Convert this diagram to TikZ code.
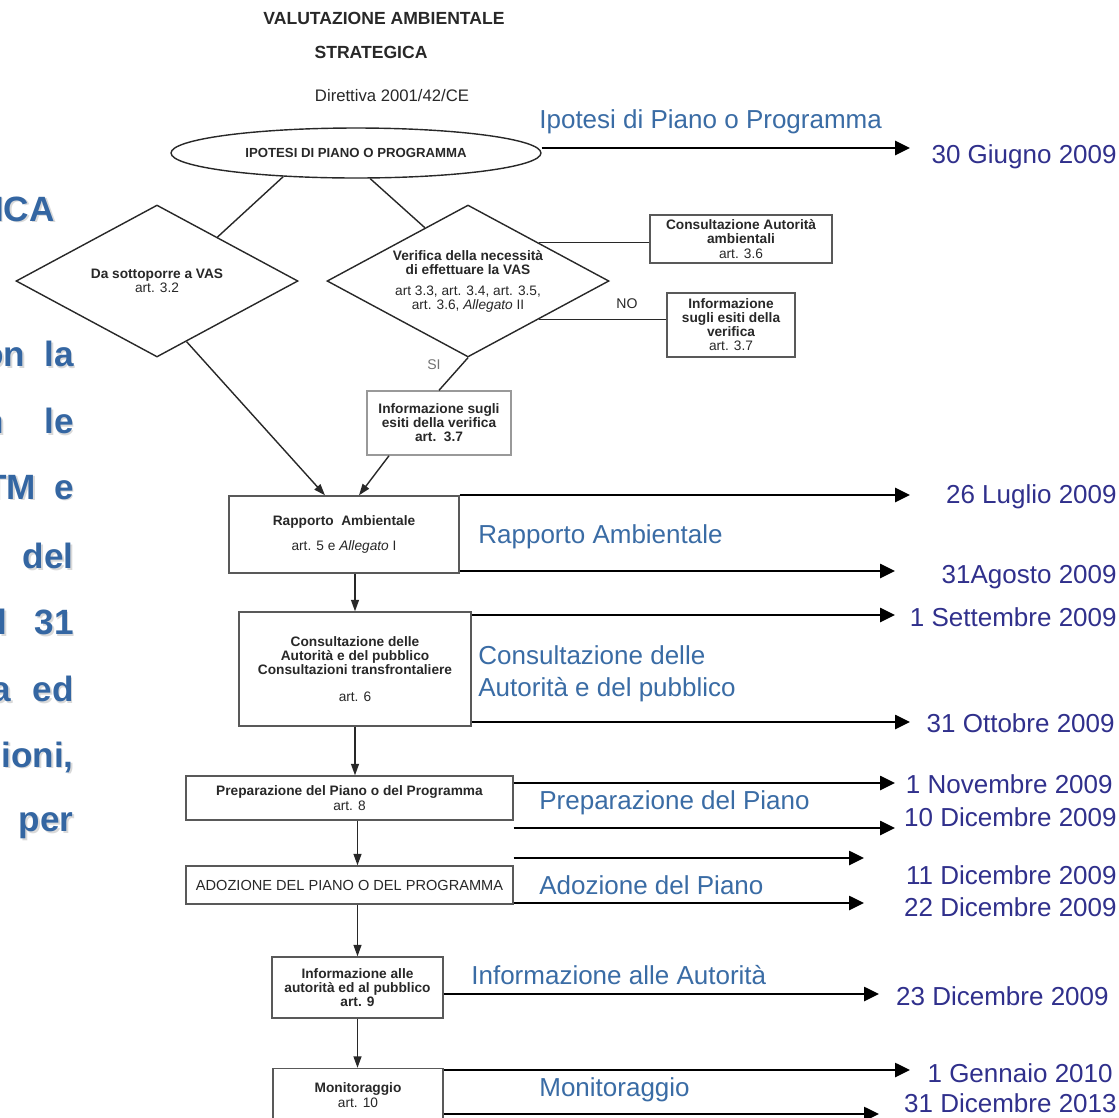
\documentclass[tikz,border=0pt]{standalone}
\usepackage{fontspec}
\setmainfont{Liberation Sans}
\usetikzlibrary{arrows.meta,shapes.geometric}

\definecolor{stageblue}{RGB}{58,108,165}
\definecolor{dateblue}{RGB}{48,48,140}
\definecolor{sideblue}{RGB}{52,102,162}
\definecolor{inkgray}{RGB}{40,40,40}

\newcommand{\flowfont}{\fontsize{7.8}{8}\selectfont\bfseries}
\newcommand{\shadowed}[1]{\makebox[0pt][l]{\hspace{1pt}\raisebox{-1pt}{\textcolor{black!15}{#1}}}#1}

\begin{document}
\begin{tikzpicture}[x=0.02cm, y=-0.02cm,
  oval/.style={ellipse, draw=inkgray, line width=0.8pt, minimum width=7.4cm, minimum height=1cm, inner sep=0pt, font=\fontsize{7.5}{9}\selectfont\bfseries, text=inkgray},
  decision/.style={diamond, draw=inkgray, line width=0.8pt, aspect=1.86, minimum width=5.64cm, minimum height=3.04cm, inner sep=0pt, align=center, font=\flowfont, text=inkgray},
  box/.style={draw=black!65, line width=0.8pt, fill=white, align=center, inner sep=0pt, font=\flowfont, text=inkgray},
  flow/.style={draw=inkgray, line width=0.8pt},
  flowarrow/.style={flow, -{Triangle[length=6.5pt, width=4.5pt]}},
  pointer/.style={draw, line width=1.3pt, -{Triangle[length=8.5pt, width=8pt]}},
  stage/.style={anchor=west, inner sep=0pt, text=stageblue, font=\fontsize{14.8}{18}\selectfont},
  date/.style={anchor=east, inner sep=0pt, text=dateblue, font=\fontsize{14.8}{18}\selectfont},
  sidetext/.style={anchor=east, inner sep=0pt, text=sideblue, font=\fontsize{20}{24}\selectfont\bfseries},
  note/.style={inner sep=0pt, text=inkgray}
]

\path[fill=white] (0,0) rectangle (1119,1117);
\useasboundingbox (0,0) rectangle (1119,1117);

% Title
\node[note, font=\fontsize{10}{12}\selectfont\bfseries] (title1) at (384,18) {VALUTAZIONE AMBIENTALE};
\node[note, font=\fontsize{10}{12}\selectfont\bfseries] (title2) at (371,52) {STRATEGICA};
\node[note, font=\fontsize{9.5}{11}\selectfont] (directive) at (392,96) {Direttiva 2001/42/CE};

% Left column text
\node[sidetext] (side0) at (55,210) {\shadowed{ICA}};
\node[sidetext] (side1) at (74,355) {\shadowed{on}\hspace{0.38cm}\shadowed{la}};
\node[sidetext] (side2) at (74,422) {\shadowed{n}\hspace{0.8cm}\shadowed{le}};
\node[sidetext] (side3) at (74,488) {\shadowed{TM}\hspace{0.36cm}\shadowed{e}};
\node[sidetext] (side4) at (74,557) {\shadowed{del}};
\node[sidetext] (side5) at (74,623) {\shadowed{l}\hspace{0.54cm}\shadowed{31}};
\node[sidetext] (side6) at (74,690) {\shadowed{a}\hspace{0.43cm}\shadowed{ed}};
\node[sidetext] (side7) at (74,758) {\shadowed{ioni,}};
\node[sidetext] (side8) at (74,827) {\shadowed{per}};

% Flowchart nodes
\node[oval] (ipotesi) at (356,153) {IPOTESI DI PIANO O PROGRAMMA};
\node[decision] (ldia) at (157,281) {Da sottoporre a VAS\\\mdseries art. 3.2};
\node[decision] (rdia) at (468,281) {Verifica della necessità\\di effettuare la VAS\\[4pt]\mdseries art 3.3, art. 3.4, art. 3.5,\\\mdseries art. 3.6, \textit{Allegato} II};
\node[box, minimum width=3.64cm, minimum height=0.96cm] (caut) at (741,239) {Consultazione Autorità\\ambientali\\\mdseries art. 3.6};
\node[box, minimum width=2.56cm, minimum height=1.28cm] (infono) at (731,325) {Informazione\\sugli esiti della\\verifica\\\mdseries art. 3.7};
\node[box, draw=black!40, minimum width=2.88cm, minimum height=1.28cm] (infosi) at (439,423) {Informazione sugli\\esiti della verifica\\art.~~3.7};
\node[box, minimum width=4.6cm, minimum height=1.54cm] (rapp) at (344,534.5) {Rapporto~~Ambientale\\[6.5pt]\mdseries art. 5 e \textit{Allegato} I};
\node[box, minimum width=4.64cm, minimum height=2.28cm] (consult) at (355,669) {Consultazione delle\\Autorità e del pubblico\\Consultazioni transfrontaliere\\[7pt]\mdseries art. 6};
\node[box, minimum width=6.54cm, minimum height=0.88cm] (prep) at (349.5,798) {Preparazione del Piano o del Programma\\[1pt]\mdseries art. 8};
\node[box, minimum width=6.54cm, minimum height=0.76cm, font=\fontsize{8.3}{9}\selectfont] (adoz) at (349.5,885) {ADOZIONE DEL PIANO O DEL PROGRAMMA};
\node[box, minimum width=3.42cm, minimum height=1.22cm] (infoaut) at (357.5,987.5) {Informazione alle\\autorità ed al pubblico\\art. 9};
\node[box, minimum width=3.4cm, minimum height=1.06cm] (monit) at (358,1095) {Monitoraggio\\[1pt]\mdseries art. 10};

\node[note, font=\fontsize{8}{9}\selectfont] (nolabel) at (627,304) {NO};
\node[note, font=\fontsize{8}{9}\selectfont, text=black!55] (silabel) at (434,365) {SI};

% Arrows between nodes
\draw[flow] (ipotesi.198) -- (ldia.36);
\draw[flow] (ipotesi.299) -- (rdia.129);
\draw[flow] (rdia.north east) -- (caut.west |- rdia.north east);
\draw[flow] (rdia.south east) -- (infono.west |- rdia.south east);
\draw[flow] (rdia.south) -- (infosi.north);
\draw[flowarrow] (ldia.296) -- ([xshift=-0.38cm]rapp.north);
\draw[flowarrow] ([xshift=-1cm]infosi.south) -- ([xshift=0.3cm]rapp.north);
\draw[flowarrow] (rapp.south -| consult.north) -- (consult.north);
\draw[flowarrow] (consult.south) -- (consult.south |- prep.north);
\draw[flowarrow] (prep.south -| infoaut.north) -- (adoz.north -| infoaut.north);
\draw[flowarrow] (adoz.south -| infoaut.north) -- (infoaut.north);
\draw[flowarrow] (infoaut.south) -- (infoaut.south |- monit.north);

% Timeline
\coordinate (tipIpotesi) at (910,148);
\coordinate (tipRappA) at (910,495);
\coordinate (tipRappB) at (895,571);
\coordinate (tipConsA) at (895,615);
\coordinate (tipConsB) at (910,722);
\coordinate (tipPrepA) at (895,783);
\coordinate (tipPrepB) at (895,828);
\coordinate (tipAdozA) at (864,858);
\coordinate (tipAdozB) at (864,903);
\coordinate (tipInfo) at (879,994);
\coordinate (tipMonA) at (910,1070);
\coordinate (tipMonB) at (879,1114);

\draw[pointer] (ipotesi.east |- tipIpotesi) -- (tipIpotesi);
\draw[pointer] (rapp.east |- tipRappA) -- (tipRappA);
\draw[pointer] (rapp.east |- tipRappB) -- (tipRappB);
\draw[pointer] (consult.east |- tipConsA) -- (tipConsA);
\draw[pointer] (consult.east |- tipConsB) -- (tipConsB);
\draw[pointer] (prep.east |- tipPrepA) -- (tipPrepA);
\draw[pointer] (prep.east |- tipPrepB) -- (tipPrepB);
\draw[pointer] (adoz.east |- tipAdozA) -- (tipAdozA);
\draw[pointer] (adoz.east |- tipAdozB) -- (tipAdozB);
\draw[pointer] (infoaut.east |- tipInfo) -- (tipInfo);
\draw[pointer] (monit.east |- tipMonA) -- (tipMonA);
\draw[pointer] (monit.east |- tipMonB) -- (tipMonB);

% Stage labels
\node[stage] (stIpotesi) at (539,122) {Ipotesi di Piano o Programma};
\node[stage] (stRapp) at (478,537) {Rapporto Ambientale};
\node[stage, align=left] (stCons) at (478,674) {Consultazione delle\\Autorità e del pubblico};
\node[stage] (stPrep) at (539,803) {Preparazione del Piano};
\node[stage] (stAdoz) at (539,885) {Adozione del Piano};
\node[stage] (stInfo) at (471,975) {Informazione alle Autorità};
\node[stage] (stMonit) at (539,1090) {Monitoraggio};

% Dates
\node[date] (dIpotesi) at (1117,157) {30 Giugno 2009};
\node[date] (dRappA) at (1117,497) {26 Luglio 2009};
\node[date] (dRappB) at (1117,577) {31Agosto 2009};
\node[date] (dConsA) at (1117,617) {1 Settembre 2009};
\node[date] (dConsB) at (1115,723) {31 Ottobre 2009};
\node[date] (dPrepA) at (1113,784) {1 Novembre 2009};
\node[date] (dPrepB) at (1117,817) {10 Dicembre 2009};
\node[date] (dAdozA) at (1117,875) {11 Dicembre 2009};
\node[date] (dAdozB) at (1117,907) {22 Dicembre 2009};
\node[date] (dInfo) at (1109,996) {23 Dicembre 2009};
\node[date] (dMonA) at (1113,1073) {1 Gennaio 2010};
\node[date] (dMonB) at (1117,1103) {31 Dicembre 2013};

\end{tikzpicture}
\end{document}
